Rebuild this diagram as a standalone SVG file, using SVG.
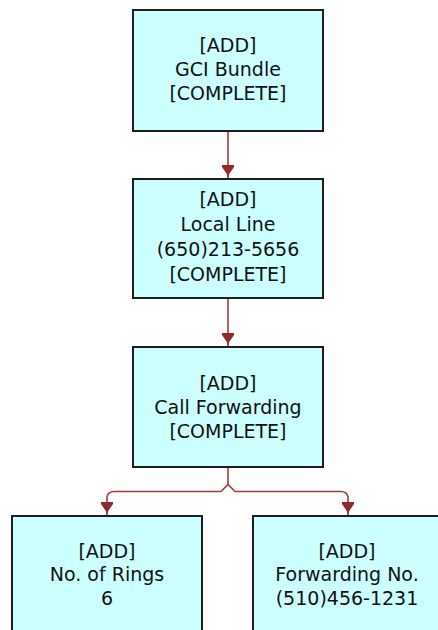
<svg xmlns="http://www.w3.org/2000/svg" width="438" height="630" viewBox="0 0 438 630">
<defs>
<style>
.box{fill:#ccffff;stroke:#1e1e1e;stroke-width:2}
.lbl{font-family:"DejaVu Sans",sans-serif;font-size:19px;fill:#111;text-anchor:middle}
.con{fill:none;stroke:#a03c3c;stroke-width:1.6}
</style>
<marker id="ad" markerUnits="userSpaceOnUse" markerWidth="16" markerHeight="16" viewBox="0 0 16 16" refX="8" refY="15" orient="0">
<path d="M2 2 L14 2 L14 4 L9.2 11 L8 15 L6.8 11 L2 4 Z" fill="#8f2a2a"/>
</marker>
</defs>
<rect width="438" height="630" fill="#ffffff"/>
<g id="connectors">
<path class="con" d="M228 131 V178" marker-end="url(#ad)"/>
<path class="con" d="M228 298 V346" marker-end="url(#ad)"/>
<path class="con" d="M228 467 V484.5"/>
<path class="con" d="M221 491.5 L224 488.5 L228 484.5 L232 488.5 L235 491.5"/>
<path class="con" d="M221 491.5 H114 Q108 491.5 107 497 V515" marker-end="url(#ad)"/>
<path class="con" d="M235 491.5 H341 Q347 491.5 348 497 V515" marker-end="url(#ad)"/>
</g>
<g id="n1">
<rect class="box" x="133" y="10" width="190" height="121"/>
<text class="lbl" x="228" y="52">[ADD]</text>
<text class="lbl" x="228" y="76">GCI Bundle</text>
<text class="lbl" x="228" y="100">[COMPLETE]</text>
</g>
<g id="n2">
<rect class="box" x="133" y="179" width="190" height="119"/>
<text class="lbl" x="228" y="206">[ADD]</text>
<text class="lbl" x="228" y="231">Local Line</text>
<text class="lbl" x="228" y="256">(650)213-5656</text>
<text class="lbl" x="228" y="281">[COMPLETE]</text>
</g>
<g id="n3">
<rect class="box" x="133" y="347" width="190" height="120"/>
<text class="lbl" x="228" y="390">[ADD]</text>
<text class="lbl" x="228" y="414">Call Forwarding</text>
<text class="lbl" x="228" y="438">[COMPLETE]</text>
</g>
<g id="n4">
<rect class="box" x="12" y="516" width="190" height="130"/>
<text class="lbl" x="107" y="558">[ADD]</text>
<text class="lbl" x="107" y="581">No. of Rings</text>
<text class="lbl" x="107" y="605">6</text>
</g>
<g id="n5">
<rect class="box" x="253" y="516" width="190" height="130"/>
<text class="lbl" x="347" y="558">[ADD]</text>
<text class="lbl" x="347" y="581">Forwarding No.</text>
<text class="lbl" x="347" y="605">(510)456-1231</text>
</g>
</svg>
